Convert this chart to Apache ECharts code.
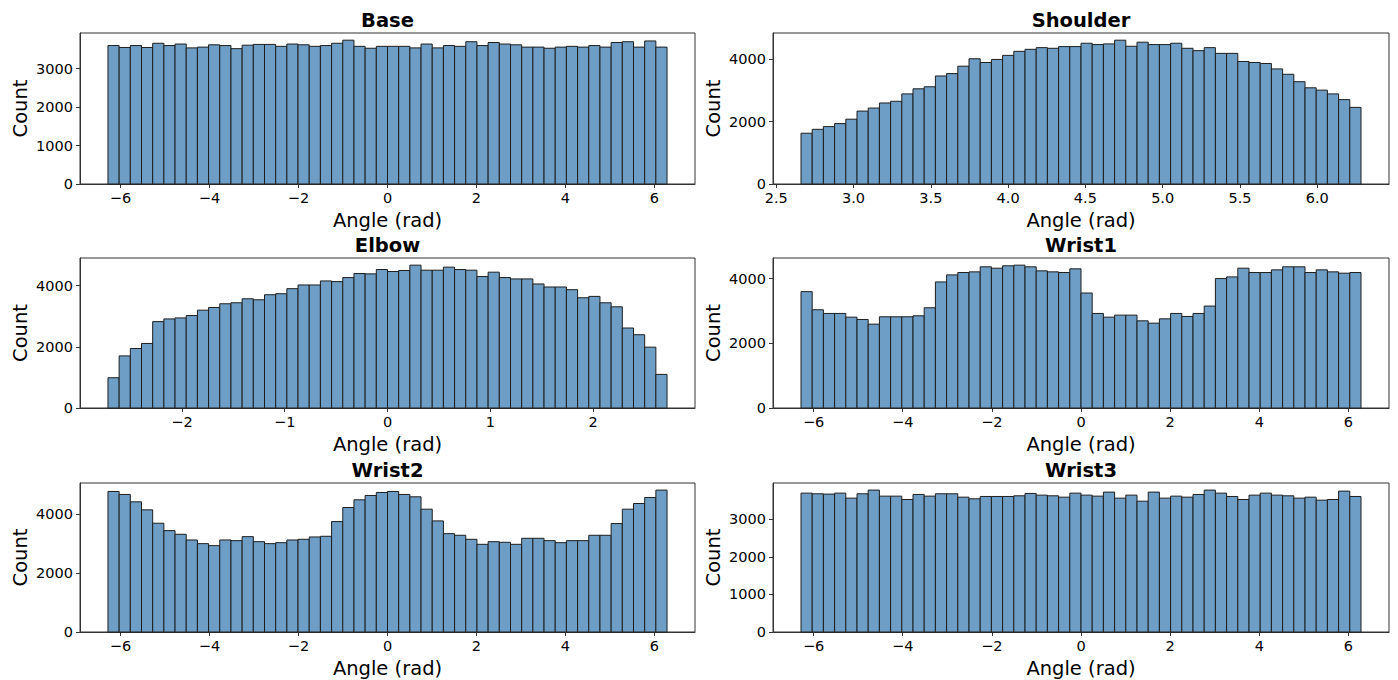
<!DOCTYPE html>
<html>
<head>
<meta charset="utf-8">
<script src="https://cdn.jsdelivr.net/npm/echarts@6/dist/echarts.min.js"></script>
<style>
html,body{margin:0;padding:0;background:#fff;}
#chart{width:1398px;height:680px;}
</style>
</head>
<body>
<div id="chart"></div>
<script>
// ---- data (counts per bin, 50 bins each) ----
const jointNames = ['Base', 'Shoulder', 'Elbow', 'Wrist1', 'Wrist2', 'Wrist3'];

const baseRange = [-6.2832, 6.2832];
const shoulderRange = [2.66, 6.2832];
const elbowRange = [-2.72, 2.72];
const wrist1Range = [-6.2832, 6.2832];
const wrist2Range = [-6.2832, 6.2832];
const wrist3Range = [-6.2832, 6.2832];

const baseCounts = [3600,3550,3600,3550,3660,3600,3640,3540,3560,3620,3600,3520,3610,3630,3630,3580,3640,3620,3580,3600,
  3660,3740,3580,3530,3580,3580,3580,3540,3640,3540,3600,3580,3700,3600,3680,3640,3620,3560,3560,3530,
  3560,3580,3560,3600,3560,3680,3700,3560,3720,3560];

const shoulderCounts = [1630,1756,1843,1940,2081,2341,2439,2602,2656,2894,3057,3122,3469,3545,3783,4022,3902,4000,4130,4260,
  4325,4379,4358,4412,4412,4520,4477,4499,4618,4423,4553,4477,4477,4520,4358,4282,4379,4195,4195,3935,
  3902,3870,3696,3523,3285,3089,3014,2894,2710,2461];

const elbowCounts = [989,1703,1945,2110,2824,2912,2945,3022,3198,3286,3407,3440,3571,3538,3703,3736,3901,4022,4022,4154,
  4132,4264,4396,4385,4527,4462,4495,4670,4505,4505,4604,4527,4505,4297,4440,4264,4220,4220,4055,3956,
  3956,3868,3604,3648,3440,3308,2615,2396,1989,1099];

const wrist1Counts = [3596,3036,2922,2922,2808,2736,2591,2819,2819,2819,2850,3098,3896,4114,4187,4207,4363,4321,4394,4415,
  4363,4238,4207,4187,4301,3554,2922,2808,2870,2870,2694,2622,2756,2922,2829,2922,3150,4000,4052,4321,
  4187,4187,4269,4363,4363,4187,4269,4207,4166,4187];

const wrist2Counts = [4759,4657,4408,4136,3683,3433,3309,3116,2992,2924,3116,3093,3229,3059,2992,3025,3116,3139,3218,3241,
  3739,4215,4476,4623,4725,4759,4657,4578,4159,3762,3331,3275,3139,2969,3059,3037,2969,3173,3173,3093,
  3025,3093,3093,3275,3275,3671,4159,4351,4555,4805];

const wrist3Counts = [3696,3679,3670,3696,3563,3679,3777,3616,3616,3527,3661,3616,3679,3679,3589,3545,3607,3607,3607,3625,
  3688,3643,3625,3589,3696,3643,3616,3723,3563,3643,3482,3723,3563,3616,3589,3661,3777,3696,3607,3527,
  3643,3696,3643,3625,3563,3589,3509,3527,3750,3607];

// ---- tick labels ----
const angleTicks6 = [-6, -4, -2, 0, 2, 4, 6];
const shoulderTicks = [2.5, 3.0, 3.5, 4.0, 4.5, 5.0, 5.5, 6.0];
const elbowTicks = [-2, -1, 0, 1, 2];
const countTicks1000 = [0, 1000, 2000, 3000];
const countTicks2000 = [0, 2000, 4000];

const xLabel = 'Angle (rad)';
const yLabel = 'Count';

// ---- assemble ----
const ranges = [baseRange, shoulderRange, elbowRange, wrist1Range, wrist2Range, wrist3Range];
const counts = [baseCounts, shoulderCounts, elbowCounts, wrist1Counts, wrist2Counts, wrist3Counts];
const xTicks = [angleTicks6, shoulderTicks, elbowTicks, angleTicks6, angleTicks6, angleTicks6];
const xDecimals = [0, 1, 0, 0, 0, 0];
const yTicks = [countTicks1000, countTicks2000, countTicks2000, countTicks2000, countTicks2000, countTicks1000];

const FONT = 'DejaVu Sans';
const colLeft = [80, 773];
const colWidth = [615, 616];
const rowTop = [33, 258, 483];
const rowHeight = [151, 150, 149];

function fmt(v, d) {
  const s = Math.abs(v).toFixed(d);
  return (v < 0 ? '\u2212' : '') + s;
}

const grids = [], xAxes = [], yAxes = [], series = [], titles = [];
for (let i = 0; i < 6; i++) {
  const c = i % 2, r = Math.floor(i / 2);
  const [lo, hi] = ranges[i];
  const n = counts[i].length;
  const w = (hi - lo) / n;
  const span = hi - lo;
  const maxC = Math.max.apply(null, counts[i]);
  grids.push({
    left: colLeft[c], top: rowTop[r], width: colWidth[c], height: rowHeight[r],
    show: true, borderColor: '#333', borderWidth: 1, backgroundColor: 'transparent'
  });
  const d = xDecimals[i];
  xAxes.push({
    type: 'value', gridIndex: i,
    min: lo - 0.05 * span, max: hi + 0.05 * span,
    splitLine: { show: false },
    axisLine: { show: true, onZero: false, lineStyle: { color: '#333', width: 1 } },
    axisTick: { show: true, length: 4, lineStyle: { color: '#333' }, customValues: xTicks[i] },
    axisLabel: { show: true, customValues: xTicks[i], margin: 6, fontSize: 14.5, color: '#000', fontFamily: FONT,
      formatter: (v) => fmt(v, d) },
    name: xLabel, nameLocation: 'middle', nameGap: 26,
    nameTextStyle: { fontSize: 19.5, color: '#000', fontFamily: FONT }
  });
  yAxes.push({
    type: 'value', gridIndex: i,
    min: 0, max: maxC * 1.05,
    splitLine: { show: false },
    axisLine: { show: true, onZero: false, lineStyle: { color: '#333', width: 1 } },
    axisTick: { show: true, length: 4, lineStyle: { color: '#333' }, customValues: yTicks[i] },
    axisLabel: { show: true, customValues: yTicks[i], margin: 7, fontSize: 14.5, color: '#000', fontFamily: FONT,
      formatter: (v) => String(Math.round(v)) },
    name: yLabel, nameLocation: 'middle', nameGap: 50,
    nameTextStyle: { fontSize: 19.5, color: '#000', fontFamily: FONT }
  });
  const data = counts[i].map((v, k) => [lo + k * w, lo + (k + 1) * w, v]);
  series.push({
    type: 'custom', xAxisIndex: i, yAxisIndex: i, data: data,
    renderItem: function (params, api) {
      const p0 = api.coord([api.value(0), api.value(2)]);
      const p1 = api.coord([api.value(1), 0]);
      return {
        type: 'rect',
        shape: { x: p0[0], y: p0[1], width: p1[0] - p0[0], height: p1[1] - p0[1] },
        style: { fill: 'rgb(110,158,198)', stroke: '#1e1e1e', lineWidth: 1 }
      };
    },
    encode: { x: [0, 1], y: 2 },
    silent: true, animation: false
  });
  titles.push({
    text: jointNames[i],
    left: colLeft[c] + colWidth[c] / 2, textAlign: 'center',
    top: rowTop[r] - 24, padding: 0,
    textStyle: { fontSize: 19.5, fontWeight: 'bold', color: '#000', fontFamily: FONT, lineHeight: 22 }
  });
}

const chart = echarts.init(document.getElementById('chart'), null, { renderer: 'svg' });
chart.setOption({
  animation: false,
  backgroundColor: '#fff',
  title: titles,
  grid: grids,
  xAxis: xAxes,
  yAxis: yAxes,
  series: series
});
</script>
</body>
</html>
